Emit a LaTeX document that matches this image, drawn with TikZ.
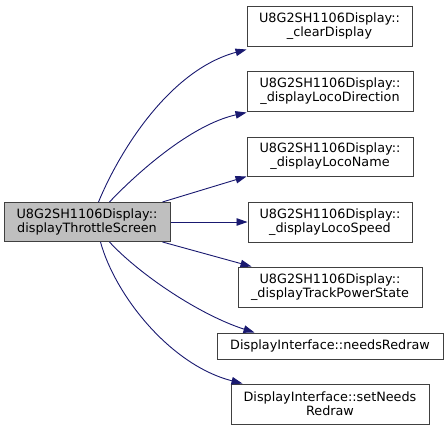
\documentclass[tikz,border=0pt]{standalone}
\usepackage{fontspec}
\setmainfont{DejaVu Sans}
\usetikzlibrary{arrows.meta}
\definecolor{edgeblue}{RGB}{25,25,112}
\definecolor{boxgray}{RGB}{64,64,64}
\definecolor{mainfill}{RGB}{191,191,191}
\begin{document}
\begin{tikzpicture}[x=1pt,y=-1pt,
  fbox/.style={draw=boxgray,line width=1pt,fill=white,inner sep=0pt,align=center,
     font=\fontsize{12.8}{14}\selectfont},
  calls/.style={draw=edgeblue,line width=0.9pt,-{Triangle[length=11pt,width=7.5pt]}}]
\useasboundingbox (0,0) rectangle (448,431);
\node[fbox,fill=mainfill,minimum width=166pt,minimum height=39pt] (main) at (87,222) {U8G2SH1106Display::\\displayThrottleScreen};
\node[fbox,minimum width=165pt,minimum height=40pt] (b1) at (329.5,26) {U8G2SH1106Display::\\\_clearDisplay};
\node[fbox,minimum width=166pt,minimum height=40pt] (b2) at (330,91) {U8G2SH1106Display::\\\_displayLocoDirection};
\node[fbox,minimum width=166pt,minimum height=39pt] (b3) at (330,156.5) {U8G2SH1106Display::\\\_displayLocoName};
\node[fbox,minimum width=164pt,minimum height=40pt] (b4) at (330,222) {U8G2SH1106Display::\\\_displayLocoSpeed};
\node[fbox,minimum width=184pt,minimum height=40pt] (b5) at (330,287) {U8G2SH1106Display::\\\_displayTrackPowerState};
\node[fbox,minimum width=226pt,minimum height=26pt] (b6) at (330,346) {DisplayInterface::needsRedraw};
\node[fbox,minimum width=198pt,minimum height=40pt] (b7) at (330,404) {DisplayInterface::setNeeds\\Redraw};
\draw[calls] ([xshift=95pt]main.north west) .. controls (120,150) and (170,70) .. ([yshift=-3pt]b1.south west);
\draw[calls] ([xshift=106pt]main.north west) .. controls (135,175) and (190,125) .. ([yshift=-1pt]b2.south west);
\draw[calls] ([xshift=159pt]main.north west) -- (b3.south west);
\draw[calls] (main.east) -- (b4.west);
\draw[calls] ([xshift=159pt]main.south west) -- ([xshift=14pt]b5.north west);
\draw[calls] ([xshift=106pt]main.south west) .. controls (140,275) and (200,315) .. ([xshift=38pt]b6.north west);
\draw[calls] ([xshift=97pt]main.south west) .. controls (115,295) and (170,365) .. ([xshift=12pt]b7.north west);
\end{tikzpicture}
\end{document}
